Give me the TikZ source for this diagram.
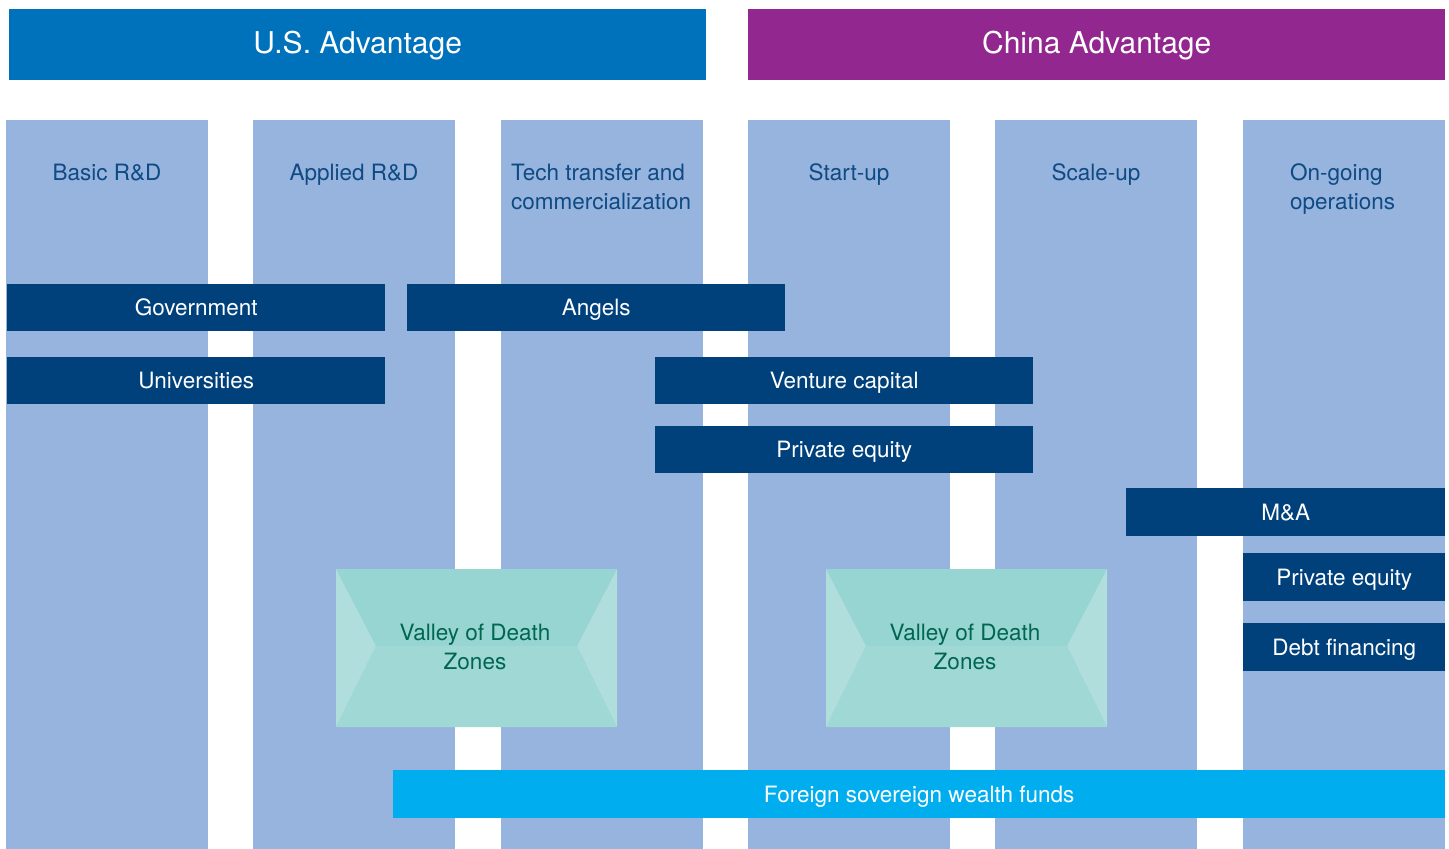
\documentclass[tikz,border=0pt]{standalone}
\usepackage{fontspec}
\setmainfont{TeX Gyre Heros}
\definecolor{usblue}{RGB}{0,114,188}
\definecolor{cnpurple}{RGB}{146,39,143}
\definecolor{colbg}{RGB}{150,180,221}
\definecolor{coltext}{RGB}{14,74,132}
\definecolor{barblue}{RGB}{0,65,124}
\definecolor{skyblue}{RGB}{0,174,239}
\definecolor{vtop}{RGB}{151,213,210}
\definecolor{vbot}{RGB}{159,216,213}
\definecolor{vside}{RGB}{176,222,220}
\definecolor{vtext}{RGB}{0,102,80}
\begin{document}
\begin{tikzpicture}[x=1pt,y=-1pt,
  header/.style={fill=#1,text=white,inner sep=0pt,anchor=north west,
    font=\fontsize{30}{36}\selectfont,text height=17.5pt,text depth=0pt},
  column/.style={fill=colbg,inner sep=0pt,anchor=north west,minimum width=202pt,minimum height=729pt},
  collabel/.style={text=coltext,inner sep=0pt,font=\fontsize{22.5}{29}\selectfont},
  bar/.style={fill=barblue,text=white,inner sep=0pt,anchor=north west,minimum height=47pt,
    font=\fontsize{22.5}{29}\selectfont,text height=16pt,text depth=0pt},
  vtxt/.style={text=vtext,inner sep=0pt,align=center,font=\fontsize{22.5}{29}\selectfont}
]
\useasboundingbox (0,0) rectangle (1449,849);
\fill[white] (0,0) rectangle (1449,849);
% headers
\node[header=usblue,minimum width=697pt,minimum height=71pt] (us) at (9,9) {U.S. Advantage};
\node[header=cnpurple,minimum width=697pt,minimum height=71pt] (cn) at (748,9) {China Advantage};
% columns
\node[column] (c1) at (6,120) {};
\node[column] (c2) at (253,120) {};
\node[column] (c3) at (501,120) {};
\node[column] (c4) at (748,120) {};
\node[column] (c5) at (995,120) {};
\node[column] (c6) at (1243,120) {};
% column labels
\node[collabel,anchor=base] (l1) at (107,180) {Basic R\&D};
\node[collabel,anchor=base] (l2) at (354,180) {Applied R\&D};
\node[collabel,anchor=base west,align=left] (l3) at (511,209) {Tech transfer and\\commercialization};
\node[collabel,anchor=base] (l4) at (849,180) {Start-up};
\node[collabel,anchor=base] (l5) at (1096,180) {Scale-up};
\node[collabel,anchor=base west,align=left] (l6) at (1290,209) {On-going\\operations};
% funding bars
\node[bar,minimum width=378pt] (gov) at (7,284) {Government};
\node[bar,minimum width=378pt] (ang) at (407,284) {Angels};
\node[bar,minimum width=378pt] (uni) at (7,357) {Universities};
\node[bar,minimum width=378pt] (vc) at (655,357) {Venture capital};
\node[bar,minimum width=378pt] (pe1) at (655,426) {Private equity};
\node[bar,minimum width=319pt,minimum height=48pt] (ma) at (1126,488) {M\&A};
\node[bar,minimum width=202pt,minimum height=48pt] (pe2) at (1243,553) {Private equity};
\node[bar,minimum width=202pt,minimum height=48pt] (debt) at (1243,623) {Debt financing};
\node[bar,fill=skyblue,minimum width=1052pt,minimum height=48pt] (fswf) at (393,770) {Foreign sovereign wealth funds};
% valley of death zones
\foreach \x/\n in {336/v1,826/v2}{
  \fill[vtop] (\x,569) -- (\x+281,569) -- (\x+241,646) -- (\x+40,646) -- cycle;
  \fill[vbot] (\x+40,646) -- (\x+241,646) -- (\x+281,727) -- (\x,727) -- cycle;
  \fill[vside] (\x,569) -- (\x+40,646) -- (\x,727) -- cycle;
  \fill[vside] (\x+281,569) -- (\x+241,646) -- (\x+281,727) -- cycle;
}
\node[vtxt,anchor=base] (vt1) at (475,669) {Valley of Death\\Zones};
\node[vtxt,anchor=base] (vt2) at (965,669) {Valley of Death\\Zones};
\end{tikzpicture}
\end{document}
